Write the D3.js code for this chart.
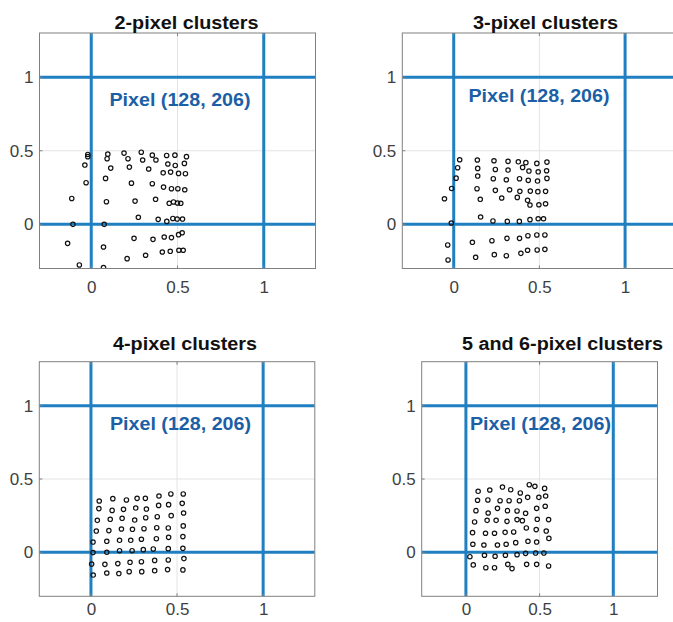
<!DOCTYPE html>
<html>
<head>
<meta charset="utf-8">
<script src="https://cdn.jsdelivr.net/npm/d3@7"></script>
<style>
  html, body { margin: 0; padding: 0; background: #fff; }
  svg { display: block; font-family: "Liberation Sans", Arial, sans-serif; }
</style>
</head>
<body>
<div id="chart"></div>
<script>
// cluster centroid positions (pixel units)
var twoPixel = [
  [-0.02,0.475],[-0.02,0.46],[0.096,0.477],[0.19,0.484],[0.29,0.49],[0.354,0.47],[0.437,0.468],[0.485,0.47],[0.552,0.46],
  [0.092,0.446],[0.213,0.446],[0.298,0.437],[0.375,0.437],[0.444,0.41],[0.487,0.40],[0.54,0.414],
  [-0.037,0.403],[0.113,0.382],[0.221,0.389],[0.333,0.376],[0.417,0.35],[0.46,0.355],[0.506,0.346],[0.546,0.344],
  [-0.03,0.283],[0.083,0.312],[0.233,0.28],[0.354,0.276],[0.419,0.253],[0.465,0.242],[0.502,0.242],[0.542,0.235],
  [-0.113,0.176],[0.088,0.154],[0.254,0.158],[0.373,0.17],[0.452,0.143],[0.477,0.152],[0.50,0.145],[0.519,0.143],
  [-0.106,0.0],[0.075,0.0],[0.273,0.048],[0.388,0.034],[0.438,0.02],[0.473,0.04],[0.498,0.036],[0.529,0.036],
  [-0.137,-0.129],[0.071,-0.154],[0.248,-0.095],[0.358,-0.102],[0.423,-0.086],[0.465,-0.09],[0.506,-0.07],[0.527,-0.057],
  [0.208,-0.233],[0.315,-0.21],[0.412,-0.188],[0.458,-0.183],[0.508,-0.176],[0.533,-0.176],
  [-0.069,-0.276],[0.071,-0.294]
];
var threePixel = [
  [0.035,0.439],[0.138,0.437],[0.235,0.432],[0.317,0.428],[0.377,0.425],[0.421,0.419],[0.485,0.414],[0.544,0.423],
  [0.023,0.385],[0.14,0.38],[0.243,0.373],[0.317,0.369],[0.402,0.387],[0.439,0.362],[0.493,0.357],[0.542,0.364],
  [0.014,0.314],[0.14,0.328],[0.231,0.31],[0.307,0.303],[0.384,0.31],[0.435,0.299],[0.489,0.294],[0.544,0.312],
  [-0.012,0.244],[0.136,0.242],[0.243,0.231],[0.326,0.235],[0.386,0.224],[0.447,0.226],[0.491,0.222],[0.536,0.224],
  [-0.054,0.174],[0.155,0.17],[0.28,0.179],[0.371,0.183],[0.431,0.163],[0.445,0.131],[0.497,0.133],[0.536,0.14],
  [-0.014,0.009],[0.157,0.05],[0.229,0.023],[0.313,0.02],[0.383,0.02],[0.445,0.032],[0.493,0.038],[0.524,0.038],
  [-0.035,-0.14],[0.109,-0.122],[0.223,-0.111],[0.311,-0.095],[0.384,-0.095],[0.433,-0.077],[0.485,-0.072],[0.532,-0.072],
  [-0.033,-0.242],[0.128,-0.224],[0.237,-0.206],[0.307,-0.213],[0.392,-0.197],[0.431,-0.176],[0.487,-0.174],[0.532,-0.17]
];
var fourPixel = [
  [0.048,0.35],[0.127,0.366],[0.206,0.357],[0.268,0.368],[0.316,0.368],[0.395,0.384],[0.464,0.398],[0.536,0.398],
  [0.046,0.298],[0.123,0.286],[0.189,0.293],[0.26,0.302],[0.322,0.295],[0.393,0.32],[0.451,0.325],[0.53,0.334],
  [0.037,0.218],[0.112,0.225],[0.181,0.232],[0.254,0.22],[0.318,0.236],[0.385,0.243],[0.466,0.25],[0.538,0.268],
  [0.031,0.145],[0.104,0.148],[0.177,0.159],[0.241,0.157],[0.308,0.161],[0.382,0.168],[0.449,0.166],[0.536,0.18],
  [0.012,0.07],[0.092,0.075],[0.166,0.082],[0.231,0.082],[0.293,0.089],[0.38,0.093],[0.451,0.102],[0.534,0.107],
  [0.012,-0.002],[0.092,0.0],[0.166,0.011],[0.239,0.011],[0.304,0.018],[0.362,0.023],[0.449,0.025],[0.534,0.027],
  [0.004,-0.08],[0.081,-0.082],[0.156,-0.077],[0.227,-0.068],[0.293,-0.064],[0.37,-0.055],[0.449,-0.052],[0.54,-0.043],
  [0.013,-0.155],[0.092,-0.141],[0.162,-0.145],[0.222,-0.132],[0.295,-0.132],[0.37,-0.125],[0.445,-0.118],[0.534,-0.12]
];
var fiveSixPixel = [
  [0.083,0.416],[0.162,0.425],[0.248,0.445],[0.304,0.427],[0.369,0.405],[0.43,0.461],[0.468,0.45],[0.534,0.436],
  [0.079,0.355],[0.149,0.357],[0.232,0.352],[0.293,0.352],[0.363,0.352],[0.419,0.375],[0.495,0.375],[0.541,0.384],
  [0.068,0.284],[0.151,0.268],[0.214,0.30],[0.282,0.284],[0.347,0.282],[0.405,0.266],[0.48,0.30],[0.538,0.314],
  [0.059,0.207],[0.144,0.218],[0.205,0.218],[0.279,0.211],[0.347,0.223],[0.383,0.216],[0.484,0.225],[0.561,0.223],
  [0.045,0.134],[0.133,0.13],[0.194,0.13],[0.266,0.136],[0.324,0.139],[0.41,0.166],[0.477,0.155],[0.545,0.145],
  [0.047,0.055],[0.122,0.05],[0.214,0.05],[0.273,0.055],[0.338,0.066],[0.421,0.075],[0.48,0.07],[0.563,0.095],
  [0.027,-0.03],[0.126,-0.02],[0.198,-0.027],[0.268,-0.02],[0.347,-0.016],[0.405,-0.007],[0.473,-0.005],[0.529,-0.005],
  [0.05,-0.086],[0.135,-0.105],[0.194,-0.105],[0.284,-0.082],[0.313,-0.111],[0.412,-0.082],[0.48,-0.082],[0.561,-0.093]
];

var titles = ["2-pixel clusters", "3-pixel clusters", "4-pixel clusters", "5 and 6-pixel clusters"];
var pixelLabel = "Pixel (128, 206)";
var pixelEdges = [0, 1];
var tickValues = [0, 0.5, 1];
var tickLabels = ["0", "0.5", "1"];
var axisDomain = [-0.3, 1.3];

var W = 673, H = 622;
var blue = "#1f7fc1";

// panel boxes in page pixels
var panels = [
  {data: twoPixel,     left: 39.5,  top: 33,    right: 315.5, bottom: 268.5, xPad: 12,  titleX: 186.5, titleW: 144, labelX: 109.5, labelY: 106},
  {data: threePixel,   left: 402.3, top: 33,    right: 676.5, bottom: 268.5, xPad: 12,  titleX: 545.5, titleW: 145, labelX: 468.5, labelY: 102},
  {data: fourPixel,    left: 39.3,  top: 361.7, right: 314.8, bottom: 596.3, xPad: 6.5, titleX: 185,   titleW: 144, labelX: 110,   labelY: 430},
  {data: fiveSixPixel, left: 421.7, top: 361.7, right: 657.5, bottom: 596.3, xPad: 6.5, titleX: 562.5, titleW: 201, labelX: 470,   labelY: 430}
];

var svg = d3.select("#chart").append("svg")
    .attr("width", W)
    .attr("height", H);

panels.forEach(function (p, i) {
    var x = d3.scaleLinear().domain(axisDomain).range([p.left, p.right]);
    var y = d3.scaleLinear().domain(axisDomain).range([p.bottom, p.top]);
    var g = svg.append("g").attr("class", "panel");

    g.append("clipPath").attr("id", "clip" + i)
        .append("rect")
        .attr("x", p.left).attr("y", p.top)
        .attr("width", p.right - p.left).attr("height", p.bottom - p.top);

    var inner = g.append("g").attr("clip-path", "url(#clip" + i + ")");

    // grid
    inner.selectAll(".gx").data(tickValues).enter().append("line")
        .attr("x1", function (d) { return x(d); }).attr("x2", function (d) { return x(d); })
        .attr("y1", p.top).attr("y2", p.bottom)
        .attr("stroke", "#e3e3e3").attr("stroke-width", 1);
    inner.selectAll(".gy").data(tickValues).enter().append("line")
        .attr("y1", function (d) { return y(d); }).attr("y2", function (d) { return y(d); })
        .attr("x1", p.left).attr("x2", p.right)
        .attr("stroke", "#e3e3e3").attr("stroke-width", 1);

    // pixel boundaries
    inner.selectAll(".vx").data(pixelEdges).enter().append("line")
        .attr("x1", function (d) { return x(d); }).attr("x2", function (d) { return x(d); })
        .attr("y1", p.top).attr("y2", p.bottom)
        .attr("stroke", blue).attr("stroke-width", 3);
    inner.selectAll(".hy").data(pixelEdges).enter().append("line")
        .attr("y1", function (d) { return y(d); }).attr("y2", function (d) { return y(d); })
        .attr("x1", p.left).attr("x2", p.right)
        .attr("stroke", blue).attr("stroke-width", 3);

    // points
    inner.selectAll("circle").data(p.data).enter().append("circle")
        .attr("cx", function (d) { return x(d[0]); })
        .attr("cy", function (d) { return y(d[1]); })
        .attr("r", 2.2)
        .attr("fill", "none")
        .attr("stroke", "#111")
        .attr("stroke-width", 1.2);

    // box + ticks
    g.append("rect")
        .attr("x", p.left).attr("y", p.top)
        .attr("width", p.right - p.left).attr("height", p.bottom - p.top)
        .attr("fill", "none").attr("stroke", "#808080").attr("stroke-width", 1);

    var xAxis = d3.axisBottom(x).tickValues(tickValues).tickSize(0).tickPadding(p.xPad)
        .tickFormat(function (d, k) { return tickLabels[k]; });
    var yAxis = d3.axisLeft(y).tickValues(tickValues).tickSize(0).tickPadding(6)
        .tickFormat(function (d, k) { return tickLabels[k]; });

    var gx = g.append("g").attr("transform", "translate(0," + p.bottom + ")").call(xAxis);
    var gy = g.append("g").attr("transform", "translate(" + p.left + ",0)").call(yAxis);
    [gx, gy].forEach(function (a) {
        a.select(".domain").remove();
        a.selectAll("text")
            .style("font-size", "17px")
            .style("font-family", "'Liberation Sans', Arial, sans-serif")
            .attr("fill", "#404040");
    });

    // small inward ticks
    tickValues.forEach(function (t) {
        g.append("line").attr("x1", x(t)).attr("x2", x(t))
            .attr("y1", p.bottom).attr("y2", p.bottom - 3).attr("stroke", "#808080");
        g.append("line").attr("x1", x(t)).attr("x2", x(t))
            .attr("y1", p.top).attr("y2", p.top + 3).attr("stroke", "#808080");
        g.append("line").attr("y1", y(t)).attr("y2", y(t))
            .attr("x1", p.left).attr("x2", p.left + 3).attr("stroke", "#808080");
    });

    // title
    g.append("text")
        .attr("x", p.titleX).attr("y", i < 2 ? 29 : 350)
        .attr("text-anchor", "middle")
        .attr("textLength", p.titleW)
        .attr("lengthAdjust", "spacingAndGlyphs")
        .style("font-size", "17.5px")
        .style("font-weight", "bold")
        .attr("fill", "#111")
        .text(titles[i]);

    // pixel label
    g.append("text")
        .attr("x", p.labelX).attr("y", p.labelY)
        .attr("textLength", 141)
        .attr("lengthAdjust", "spacingAndGlyphs")
        .style("font-size", "19px")
        .style("font-weight", "bold")
        .attr("fill", "#1c5fa6")
        .text(pixelLabel);
});
</script>
</body>
</html>
